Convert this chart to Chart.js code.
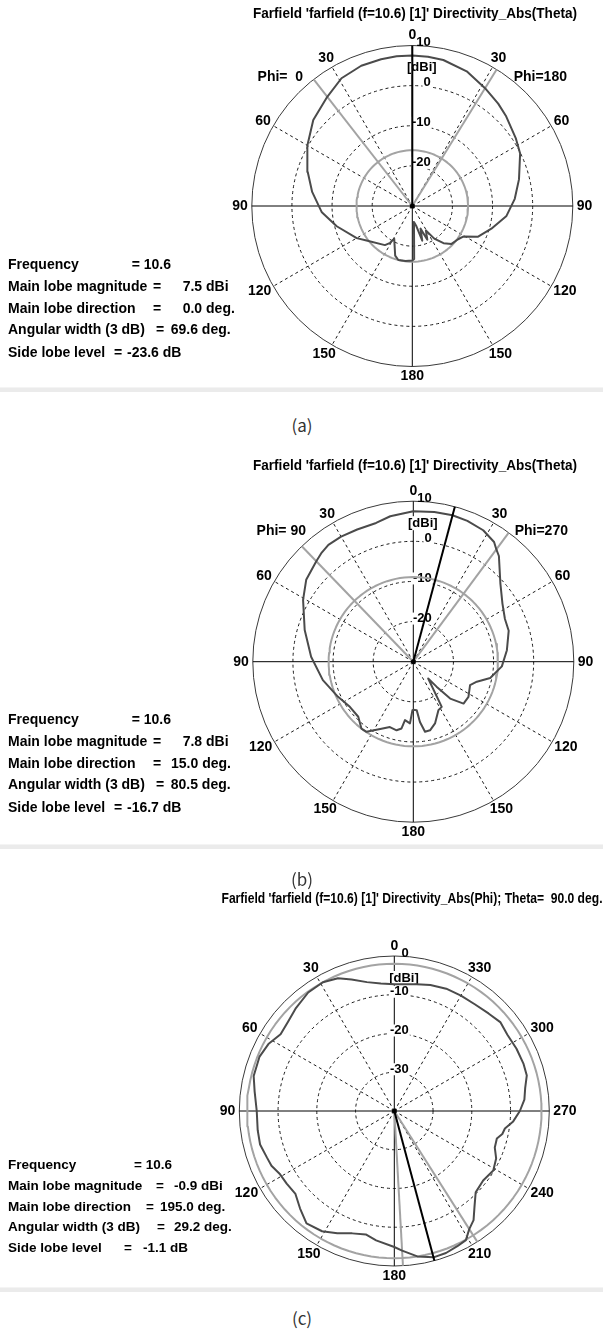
<!DOCTYPE html>
<html>
<head>
<meta charset="utf-8">
<script src="https://cdn.jsdelivr.net/npm/chart.js@4.4.1/dist/chart.umd.min.js"></script>
<style>
  html, body { margin: 0; padding: 0; background: #fff; }
  body { width: 603px; height: 1334px; position: relative; overflow: hidden; }
  canvas { position: absolute; left: 0; }
  .info { position: absolute; font: bold 14px "Liberation Sans", Arial, sans-serif; color: #000; white-space: pre; line-height: 16px; }
  .info.small { font-size: 13.5px; }
  .sep { position: absolute; left: 0; width: 603px; height: 4px; background: #ebebeb; border-top: 1px solid #f4f4f4; }
  .cap { position: absolute; width: 60px; margin-left: -30px; text-align: center; font: 17px "Noto Sans CJK KR", "Noto Sans", sans-serif; color: #333; line-height: 22px; }
</style>
</head>
<body>
<canvas id="panelA"></canvas>
<canvas id="panelB"></canvas>
<canvas id="panelC"></canvas>
<script>
// ---- Far-field results, f = 10.6 ----
const frequency = 10.6;
const infoLabels = ['Frequency', 'Main lobe magnitude', 'Main lobe direction', 'Angular width (3 dB)', 'Side lobe level'];

const mainMagnitude = [7.5, 7.8, -0.9];     // dBi
const mainDirection = [0.0, 15.0, 195.0];   // deg.
const angularWidth  = [69.6, 80.5, 29.2];   // deg., 3 dB
const sideLobeLevel = [-23.6, -16.7, -1.1]; // dB below main lobe

// (a) Directivity_Abs(Theta), cuts Phi = 0 and Phi = 180
const thetaA_phi0   = [0, 6, 12, 20, 29, 37.9, 49, 60, 72, 82, 94, 105, 120, 127, 145, 149, 151, 161, 165.5, 173, 180];
const dirA_phi0     = [7.5, 7.5, 7.4, 7.2, 6.4, 4.5, 2.7, 0.2, -2.6, -4.8, -7.4, -10.5, -14.0, -15.7, -18.1, -19.3, -20.7, -16.9, -16.1, -16.2, -16.4];
const thetaA_phi180 = [0, 6, 12, 22, 31.7, 40, 46, 57, 64, 76, 86, 96, 106, 115, 121, 126, 134, 140, 146, 151, 156, 160, 164, 169, 174, 178, 180];
const dirA_phi180   = [7.5, 7.4, 7.2, 6.2, 4.5, 3.3, 2.4, 0.8, -0.1, -2.6, -4.4, -6.4, -9.5, -11.9, -15.2, -15.9, -16.4, -17.9, -20.2, -23.0, -20.8, -24.0, -21.0, -25.0, -26.0, -16.8, -16.4];
const beamEdgeA = [37.9, 31.7];   // 3 dB edges: theta on Phi=0 / Phi=180 halves

// (b) Directivity_Abs(Theta), cuts Phi = 90 and Phi = 270
const thetaB_phi90  = [0, 9, 15, 23, 30, 36, 40, 44, 52.6, 60.7, 73.7, 87.2, 101.5, 115, 125.4, 135, 142.2, 146.3, 154.6, 160.3, 166.3, 170, 171.9, 176.9, 179, 180];
const dirB_phi90    = [7.5, 6.7, 5.8, 5.8, 6.0, 6.0, 5.5, 4.8, 3.6, 1.5, -1.8, -4.5, -7.0, -9.3, -10.6, -10.6, -8.9, -9.0, -11.5, -12.7, -12.4, -13.1, -15.3, -14.6, -17.9, -18.0];
const thetaB_phi270 = [0, 8, 15, 21, 28, 34, 36.5, 39, 48, 57, 65, 72, 83, 93, 102, 107.5, 112.4, 122.5, 129.8, 135, 137, 138.5, 147.8, 152.6, 160.6, 166.3, 170.5, 173.7, 176, 180];
const dirB_phi270   = [7.5, 7.7, 7.8, 7.6, 7.1, 6.0, 4.8, 3.9, -0.8, -3.5, -4.8, -5.0, -6.5, -7.9, -10.4, -13.4, -14.7, -13.7, -13.7, -17.0, -21.5, -24.4, -16.7, -16.4, -13.7, -12.4, -12.3, -14.9, -17.9, -18.0];
const beamEdgeB = [44.0, 36.5];   // 3 dB edges: theta on Phi=90 / Phi=270 halves

// (c) Directivity_Abs(Phi), Theta = 90
const phiC = [0, 6, 12, 18, 23, 29, 36, 44, 50, 56, 62, 68, 76, 82, 90, 98, 104, 110, 114, 119, 124, 130, 136, 142, 149, 155, 161, 167, 172, 180,
              183.2, 189, 195, 200, 205, 209, 212.4, 216, 220, 225, 232, 239, 245, 250, 255, 258, 261, 265, 270, 275, 280, 285, 290, 297, 304, 310, 316, 323, 330, 337, 344, 350, 356];
const dirC = [-7.3, -6.9, -6.0, -4.3, -2.8, -2.0, -2.2, -3.3, -4.2, -4.6, -3.2, -2.5, -2.6, -3.6, -4.5, -4.4, -4.3, -5.0, -5.3, -6.3, -6.5, -6.7, -5.0, -3.2, -3.8, -5.2, -6.6, -7.3, -6.3, -4.9,
              -3.9, -2.0, -0.9, -1.0, -1.5, -1.9, -3.9, -5.2, -7.8, -10.3, -10.9, -10.2, -11.0, -12.4, -12.6, -11.5, -11.1, -9.2, -7.6, -6.3, -5.7, -4.6, -4.5, -4.6, -4.8, -4.3, -5.0, -5.5, -5.6, -5.7, -6.2, -6.8, -7.2];
const beamEdgeC = [183.2, 212.4]; // 3 dB edges: phi

// Radial tick values (dBi)
const ticksTheta = [10, 0, -10, -20];
const ticksPhi   = [0, -10, -20, -30];
const thetaTicks = [0, 30, 60, 90, 120, 150, 180];
const phiTicks   = [0, 30, 60, 90, 120, 150, 180, 210, 240, 270, 300, 330];

const DEG = Math.PI / 180;
const FONT = '"Liberation Sans", Arial, sans-serif';

// screen angle: clockwise from the top of the plot
function polarPoint(alpha, value, rMin) {
  const r = Math.max(value - rMin, 0);
  return { x: r * Math.sin(alpha * DEG), y: r * Math.cos(alpha * DEG) };
}
function ringPoints(value, rMin) {
  const pts = [];
  for (let a = 0; a <= 360; a += 3) pts.push(polarPoint(a, value, rMin));
  return pts;
}
function spoke(alpha, rMin, rMax) {
  return [{ x: 0, y: 0 }, polarPoint(alpha, rMax, rMin)];
}

const polarGrid = {
  id: 'polarGrid',
  beforeDatasetsDraw(chart, args, o) {
    const { ctx, scales: { x, y } } = chart;
    const cx = x.getPixelForValue(0), cy = y.getPixelForValue(0);
    const rad = v => x.getPixelForValue(v - o.rMin) - cx;
    const R = rad(o.rMax);
    ctx.save();
    ctx.lineWidth = 1;
    ctx.strokeStyle = '#1a1a1a';
    ctx.setLineDash([3, 3]);
    o.ticks.forEach(v => {
      if (v <= o.rMin || v >= o.rMax) return;
      ctx.beginPath(); ctx.arc(cx, cy, rad(v), 0, Math.PI * 2); ctx.stroke();
    });
    for (let a = 30; a < 360; a += 30) {
      if (a % 90 === 0) continue;
      ctx.beginPath();
      ctx.moveTo(cx, cy);
      ctx.lineTo(cx + R * Math.sin(a * DEG), cy - R * Math.cos(a * DEG));
      ctx.stroke();
    }
    ctx.setLineDash([]);
    ctx.strokeStyle = '#3a3a3a';
    ctx.beginPath(); ctx.arc(cx, cy, R, 0, Math.PI * 2); ctx.stroke();
    ctx.strokeStyle = '#000';
    ctx.beginPath();
    ctx.moveTo(cx, cy - R); ctx.lineTo(cx, cy + R);
    ctx.moveTo(cx - R, cy); ctx.lineTo(cx + R, cy);
    ctx.stroke();

    // radial tick labels
    ctx.font = 'bold 13px ' + FONT;
    ctx.textBaseline = 'middle';
    o.ticks.forEach(v => {
      const t = String(v);
      const w = ctx.measureText(t).width;
      const xr = cx + o.tickDx, yy = cy - rad(v) - 3;
      if (v < o.rMax) { ctx.fillStyle = '#fff'; ctx.fillRect(xr - w - 1, yy - 6, w + 2, 12); }
      ctx.fillStyle = '#000'; ctx.textAlign = 'right';
      ctx.fillText(t, xr, yy);
    });
    const u = '[dBi]';
    const uw = ctx.measureText(u).width;
    const ux = cx + o.unitDx, uy = cy - (R - 22);
    ctx.fillStyle = '#fff'; ctx.fillRect(ux - uw / 2 - 1, uy - 7, uw + 2, 14);
    ctx.fillStyle = '#000'; ctx.textAlign = 'center';
    ctx.fillText(u, ux, uy);
    ctx.restore();
  },
  afterDatasetsDraw(chart) {
    const { ctx, scales: { x, y } } = chart;
    ctx.save();
    ctx.fillStyle = '#000';
    ctx.beginPath(); ctx.arc(x.getPixelForValue(0), y.getPixelForValue(0), 2.5, 0, Math.PI * 2); ctx.fill();
    ctx.restore();
  },
  afterDraw(chart, args, o) {
    const { ctx, scales: { x, y } } = chart;
    const cx = x.getPixelForValue(0), cy = y.getPixelForValue(0);
    const R = x.getPixelForValue(o.rMax - o.rMin) - cx;
    ctx.save();
    ctx.fillStyle = '#000';
    ctx.font = 'bold 14px ' + FONT;
    ctx.textAlign = 'center';
    ctx.textBaseline = 'middle';
    o.angleLabels.forEach(([alpha, text]) => {
      const w = ctx.measureText(text).width, h = 12;
      const s = Math.sin(alpha * DEG), c = Math.cos(alpha * DEG);
      ctx.fillText(text, cx + (R + 4) * s + s * w / 2, cy - (R + 4) * c - c * h / 2);
    });
    (o.sideLabels || []).forEach(([text, dx, dy]) => ctx.fillText(text, cx + dx, cy + dy));
    ctx.fillText(o.title, o.titleX, o.titleY, o.titleWidth);
    ctx.restore();
  }
};

function makePanel(p) {
  const canvas = document.getElementById(p.id);
  canvas.width = 603;
  canvas.height = p.height;
  canvas.style.top = p.top + 'px';
  const cy = p.cy - p.top;
  const span = p.rMax - p.rMin;
  const line = d => Object.assign({ showLine: true, pointRadius: 0, pointHoverRadius: 0, tension: 0, fill: false, borderJoinStyle: 'round' }, d);
  const datasets = [
    line({ data: spoke(p.mainAlpha, p.rMin, p.rMax), borderColor: '#000', borderWidth: 2, order: 0 }),
    line({ data: p.curve, borderColor: '#4b4b4b', borderWidth: 2, order: 1 }),
    line({ data: spoke(p.edges[0], p.rMin, p.rMax), borderColor: '#a3a3a3', borderWidth: 2, order: 2 }),
    line({ data: spoke(p.edges[1], p.rMin, p.rMax), borderColor: '#a3a3a3', borderWidth: 2, order: 2 }),
    line({ data: ringPoints(p.sideLobeAbs, p.rMin), borderColor: '#a3a3a3', borderWidth: 2, order: 3 })
  ];
  new Chart(canvas, {
    type: 'scatter',
    data: { datasets },
    options: {
      responsive: false,
      animation: false,
      events: [],
      layout: { padding: { left: p.cx - p.R, right: 603 - p.cx - p.R, top: cy - p.R, bottom: p.height - cy - p.R } },
      scales: {
        x: { type: 'linear', display: false, min: -span, max: span },
        y: { type: 'linear', display: false, min: -span, max: span }
      },
      plugins: {
        legend: { display: false },
        tooltip: { enabled: false },
        polarGrid: {
          rMin: p.rMin, rMax: p.rMax, ticks: p.ticks, tickDx: p.tickDx, unitDx: p.unitDx,
          angleLabels: p.angleLabels, sideLabels: p.sideLabels,
          title: p.title, titleX: p.titleX, titleY: p.titleY - p.top, titleWidth: p.titleWidth
        }
      }
    },
    plugins: [polarGrid]
  });
}

function thetaCurve(tL, vL, tR, vR, rMin) {
  const right = tR.map((t, i) => polarPoint(t, vR[i], rMin));
  const left = tL.map((t, i) => polarPoint(-t, vL[i], rMin)).reverse();
  return right.concat(left);
}
const thetaAngleLabels = [];
thetaTicks.forEach(t => {
  thetaAngleLabels.push([t, String(t)]);
  if (t > 0 && t < 180) thetaAngleLabels.push([-t, String(t)]);
});
const phiAngleLabels = phiTicks.map(p => [-p, String(p)]);
const titleTheta = `Farfield 'farfield (f=${frequency}) [1]' Directivity_Abs(Theta)`;
const titlePhi = `Farfield 'farfield (f=${frequency}) [1]' Directivity_Abs(Phi); Theta=  90.0 deg.`;

makePanel({
  id: 'panelA', top: 0, height: 386, cx: 412.3, cy: 206, R: 160.5, rMin: -30, rMax: 10,
  ticks: ticksTheta, tickDx: 18.5, unitDx: 9.5,
  curve: thetaCurve(thetaA_phi0, dirA_phi0, thetaA_phi180, dirA_phi180, -30),
  mainAlpha: mainDirection[0], edges: [-beamEdgeA[0], beamEdgeA[1]],
  sideLobeAbs: mainMagnitude[0] + sideLobeLevel[0],
  angleLabels: thetaAngleLabels,
  sideLabels: [['Phi=  0', -132, -129], ['Phi=180', 128, -129]],
  title: titleTheta, titleX: 415, titleY: 14, titleWidth: 324
});

makePanel({
  id: 'panelB', top: 440, height: 403, cx: 413.3, cy: 661.7, R: 160.5, rMin: -30, rMax: 10,
  ticks: ticksTheta, tickDx: 18.5, unitDx: 9.5,
  curve: thetaCurve(thetaB_phi90, dirB_phi90, thetaB_phi270, dirB_phi270, -30),
  mainAlpha: mainDirection[1], edges: [-beamEdgeB[0], beamEdgeB[1]],
  sideLobeAbs: mainMagnitude[1] + sideLobeLevel[1],
  angleLabels: thetaAngleLabels,
  sideLabels: [['Phi= 90', -132, -131], ['Phi=270', 128, -131]],
  title: titleTheta, titleX: 415, titleY: 466, titleWidth: 324
});

const curveC = phiC.map((p, i) => polarPoint(-p, dirC[i], -40));
curveC.push(curveC[0]);
makePanel({
  id: 'panelC', top: 880, height: 405, cx: 394.3, cy: 1111, R: 155, rMin: -40, rMax: 0,
  ticks: ticksPhi, tickDx: 14.5, unitDx: 9.7,
  curve: curveC,
  mainAlpha: -mainDirection[2], edges: [-beamEdgeC[0], -beamEdgeC[1]],
  sideLobeAbs: mainMagnitude[2] + sideLobeLevel[2],
  angleLabels: phiAngleLabels,
  sideLabels: [],
  title: titlePhi, titleX: 412, titleY: 899, titleWidth: 381
});

// ---- result summaries, separators and captions ----
const f1 = v => v.toFixed(1);
function infoBlock(rows, top, step, cls) {
  rows.forEach((segs, i) => {
    segs.forEach(([text, x]) => {
      const d = document.createElement('div');
      d.className = 'info' + (cls ? ' ' + cls : '');
      d.textContent = text;
      d.style.left = x + 'px';
      d.style.top = (top + step[i] - 8) + 'px';
      document.body.appendChild(d);
    });
  });
}
function rowsFor(k, xs) {
  return [
    [[infoLabels[0], 8], ['= ' + frequency, xs[0]]],
    [[infoLabels[1], 8], ['=', xs[1]], [f1(mainMagnitude[k]) + ' dBi', xs[2]]],
    [[infoLabels[2], 8], ['=', xs[3]], [f1(mainDirection[k]) + ' deg.', xs[4]]],
    [[infoLabels[3], 8], ['=', xs[5]], [f1(angularWidth[k]) + ' deg.', xs[6]]],
    [[infoLabels[4], 8], ['=', xs[7]], [f1(sideLobeLevel[k]) + ' dB', xs[8]]]
  ];
}
infoBlock(rowsFor(0, [131.7, 153, 182.7, 153, 182.7, 156, 170.7, 114, 127]), 264, [0, 22, 43.7, 65.3, 87.7]);
infoBlock(rowsFor(1, [131.7, 153, 182.7, 153, 171, 156, 170.7, 114, 127]), 719, [0, 22, 43.7, 65.3, 87.7]);
infoBlock(rowsFor(2, [134, 156, 174, 146, 160, 157, 174, 124, 143]), 1165, [0, 21, 41.7, 62.3, 83.3], 'small');

[387, 844, 1287].forEach(t => {
  const s = document.createElement('div');
  s.className = 'sep'; s.style.top = t + 'px';
  document.body.appendChild(s);
});
[['(a)', 425], ['(b)', 879], ['(c)', 1318]].forEach(([t, yc]) => {
  const c = document.createElement('div');
  c.className = 'cap'; c.textContent = t;
  c.style.left = '302px'; c.style.top = (yc - 11) + 'px';
  document.body.appendChild(c);
});
</script>
</body>
</html>
